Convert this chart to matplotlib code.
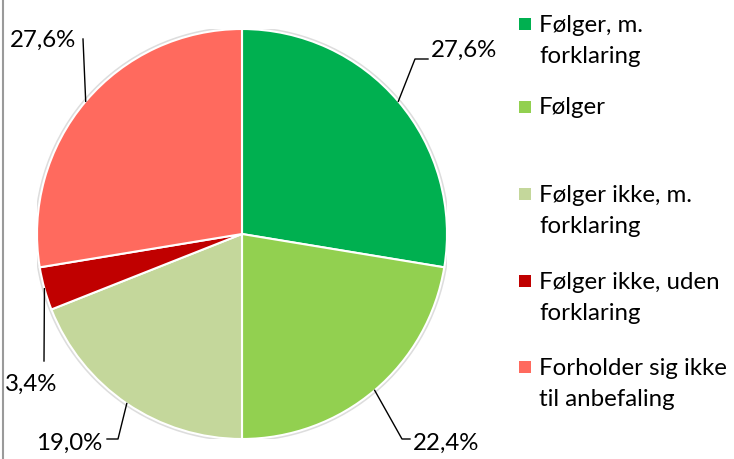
import numpy as np
import matplotlib
matplotlib.use('Agg')
import matplotlib.pyplot as plt
from matplotlib.lines import Line2D
from matplotlib.patches import Rectangle, Circle

plt.rcParams['font.family'] = ['Lato', 'DejaVu Sans']

labels = ['Følger, m.\nforklaring', 'Følger', 'Følger ikke, m.\nforklaring',
          'Følger ikke, uden\nforklaring', 'Forholder sig ikke\ntil anbefaling']
values = [27.6, 22.4, 19.0, 3.4, 27.6]
colors = ['#00B050', '#92D050', '#C4D79B', '#C00000', '#FF6A5E']

W, H = 734, 460
CX, CY, R = 242, 235, 205
FS = 17.3

fig = plt.figure(figsize=(W / 100, H / 100), dpi=100)
ax = fig.add_axes([(CX - R) / W, (H - CY - R) / H, 2 * R / W, 2 * R / H])

ax.add_patch(Circle((0, 0), 1.006, facecolor='none', edgecolor='#dddddd', lw=2, zorder=0))
wedges, _ = ax.pie(values, colors=colors, startangle=90, counterclock=False,
                   radius=1, wedgeprops=dict(edgecolor='white', linewidth=1.5))
ax.set_xlim(-1, 1)
ax.set_ylim(-1, 1)
ax.set_aspect('equal')
ax.axis('off')


def px(x, y):
    # pixel position -> data coords of the pie axes
    return (x - CX) / R, (CY - y) / R


# leader line path (elbow + end, pixels) and text anchor for each label
leaders = [
    ([(415, 60), (428, 60)], (431, 50), 'left'),
    ([(402, 440), (410, 440)], (413, 443), 'left'),
    ([(118, 440), (107, 440)], (102, 443), 'right'),
    ([(44, 362)], (31, 384), 'center'),
    ([(83, 40)], (76, 40), 'right'),
]

for w, v, (pts, tpos, ha) in zip(wedges, values, leaders):
    mid = np.deg2rad((w.theta1 + w.theta2) / 2)
    xs = [np.cos(mid)] + [px(*p)[0] for p in pts]
    ys = [np.sin(mid)] + [px(*p)[1] for p in pts]
    ax.plot(xs, ys, color='black', lw=1, clip_on=False)
    tx, ty = px(*tpos)
    ax.text(tx, ty, f'{v:.1f}%'.replace('.', ','), ha=ha, va='center',
            fontsize=FS, clip_on=False)

# legend
leg_y = [25, 108, 195, 282, 368]
line_h = 32
for lab, col, y in zip(labels, colors, leg_y):
    n = lab.count('\n') + 1
    fig.patches.append(Rectangle(((519) / W, 1 - (y + 6) / H), 12 / W, 12 / H,
                                 facecolor=col, edgecolor='none',
                                 transform=fig.transFigure))
    yc = y + (n - 1) * line_h / 2
    fig.text(539 / W, 1 - yc / H, lab, ha='left', va='center', fontsize=FS,
             linespacing=1.55)

fig.add_artist(Line2D([2.5 / W, 2.5 / W], [0, 1], color='#9a9a9a', lw=1.5,
                      transform=fig.transFigure))

fig.savefig('out.png', dpi=100)
